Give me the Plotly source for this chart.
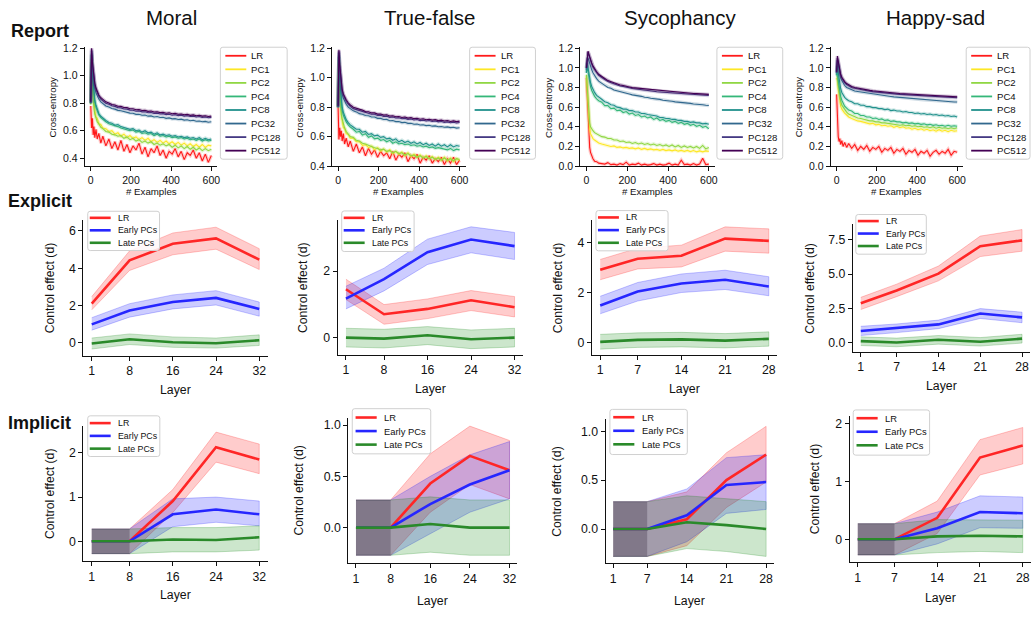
import plotly.graph_objects as go

W, H = 1036, 617
FONT = "Liberation Sans, Arial, Helvetica, sans-serif"
INK = "#111111"

# ---------------------------------------------------------------------------
# Report row: cross-entropy against number of training examples
# ---------------------------------------------------------------------------
EXAMPLES = [0, 4, 8, 12, 16, 20, 26, 32, 40, 50, 60,
            75, 90, 105, 120, 135, 150,
            165, 180, 195, 210, 225, 240,
            255, 270, 285, 300, 315, 330,
            345, 360, 375, 390, 405, 420,
            435, 450, 465, 480, 495, 510,
            525, 540, 555, 570, 585, 600]
REPORT_LABELS = ["LR", "PC1", "PC2", "PC4", "PC8", "PC32", "PC128", "PC512"]
REPORT_COLORS = ["#ff1a1a", "#fde725", "#90d743", "#35b779", "#21918c",
                 "#31688e", "#443983", "#440154"]

moral_lr = [0.78, 0.62, 0.69, 0.57, 0.63, 0.55, 0.61, 0.54, 0.58, 0.51, 0.56,
            0.49, 0.54, 0.47, 0.52, 0.46, 0.53,
            0.45, 0.50, 0.44, 0.49, 0.46, 0.51,
            0.43, 0.48, 0.41, 0.47, 0.44, 0.49,
            0.42, 0.46, 0.40, 0.45, 0.43, 0.47,
            0.41, 0.45, 0.39, 0.44, 0.42, 0.46,
            0.40, 0.44, 0.38, 0.43, 0.37, 0.42]
moral_pc1 = [0.80, 1.12, 0.95, 0.86, 0.77, 0.75, 0.70, 0.69, 0.65, 0.645, 0.62,
             0.615, 0.595, 0.60, 0.575, 0.585, 0.56,
             0.575, 0.55, 0.565, 0.545, 0.555, 0.535,
             0.55, 0.53, 0.545, 0.52, 0.535, 0.515,
             0.53, 0.51, 0.525, 0.505, 0.52, 0.50,
             0.515, 0.495, 0.51, 0.49, 0.505, 0.485,
             0.50, 0.48, 0.50, 0.478, 0.495, 0.49]
moral_pc2 = [0.79, 1.10, 0.92, 0.82, 0.76, 0.72, 0.69, 0.665, 0.65, 0.625, 0.615,
             0.595, 0.59, 0.575, 0.57, 0.56, 0.565,
             0.545, 0.555, 0.535, 0.545, 0.525, 0.535,
             0.515, 0.525, 0.51, 0.52, 0.50, 0.51,
             0.495, 0.505, 0.49, 0.50, 0.48, 0.495,
             0.475, 0.49, 0.47, 0.485, 0.465, 0.48,
             0.46, 0.475, 0.455, 0.47, 0.455, 0.465]
moral_pc4 = [0.80, 1.15, 1.00, 0.91, 0.85, 0.81, 0.77, 0.745, 0.715, 0.695, 0.68,
             0.665, 0.65, 0.645, 0.635, 0.63, 0.62,
             0.615, 0.61, 0.60, 0.605, 0.59, 0.595,
             0.58, 0.585, 0.575, 0.58, 0.565, 0.575,
             0.56, 0.565, 0.555, 0.56, 0.55, 0.555,
             0.545, 0.55, 0.54, 0.545, 0.535, 0.54,
             0.53, 0.54, 0.525, 0.535, 0.525, 0.53]
moral_pc8 = [0.80, 1.16, 1.02, 0.93, 0.87, 0.82, 0.785, 0.755, 0.725, 0.705, 0.69,
             0.675, 0.66, 0.655, 0.64, 0.645, 0.63,
             0.625, 0.62, 0.61, 0.615, 0.60, 0.605,
             0.59, 0.60, 0.585, 0.59, 0.575, 0.585,
             0.57, 0.575, 0.565, 0.57, 0.56, 0.565,
             0.555, 0.56, 0.55, 0.555, 0.545, 0.55,
             0.54, 0.55, 0.535, 0.545, 0.535, 0.54]
moral_pc32 = [0.80, 1.18, 1.07, 1.00, 0.95, 0.91, 0.875, 0.85, 0.83, 0.81, 0.795,
              0.78, 0.772, 0.761, 0.757, 0.748, 0.745,
              0.738, 0.735, 0.728, 0.727, 0.719, 0.72,
              0.713, 0.714, 0.706, 0.708, 0.70, 0.703,
              0.696, 0.698, 0.69, 0.693, 0.686, 0.688,
              0.682, 0.684, 0.677, 0.68, 0.673, 0.676,
              0.669, 0.671, 0.665, 0.668, 0.662, 0.665]
moral_pc128 = [0.80, 1.19, 1.09, 1.02, 0.97, 0.935, 0.90, 0.875, 0.85, 0.83, 0.815,
               0.80, 0.792, 0.781, 0.777, 0.768, 0.766,
               0.758, 0.757, 0.75, 0.749, 0.742, 0.744,
               0.737, 0.738, 0.731, 0.733, 0.726, 0.728,
               0.722, 0.724, 0.717, 0.72, 0.713, 0.716,
               0.71, 0.713, 0.706, 0.709, 0.703, 0.706,
               0.70, 0.703, 0.697, 0.70, 0.694, 0.697]
moral_pc512 = [0.81, 1.20, 1.10, 1.03, 0.98, 0.945, 0.91, 0.885, 0.86, 0.84, 0.825,
               0.81, 0.802, 0.79, 0.787, 0.778, 0.777,
               0.769, 0.768, 0.76, 0.76, 0.753, 0.754,
               0.747, 0.748, 0.741, 0.743, 0.736, 0.738,
               0.732, 0.734, 0.727, 0.73, 0.723, 0.726,
               0.72, 0.722, 0.716, 0.719, 0.712, 0.715,
               0.709, 0.712, 0.706, 0.709, 0.703, 0.706]

tf_lr = [0.80, 0.58, 0.66, 0.60, 0.64, 0.57, 0.62, 0.55, 0.59, 0.53, 0.57,
         0.50, 0.55, 0.49, 0.53, 0.47, 0.52,
         0.48, 0.51, 0.46, 0.50, 0.47, 0.49,
         0.45, 0.50, 0.44, 0.48, 0.46, 0.49,
         0.43, 0.47, 0.45, 0.48, 0.42, 0.46,
         0.44, 0.47, 0.42, 0.45, 0.43, 0.46,
         0.41, 0.45, 0.42, 0.46, 0.41, 0.44]
tf_pc1 = [0.80, 1.10, 0.90, 0.80, 0.74, 0.71, 0.66, 0.655, 0.62, 0.615, 0.59,
          0.59, 0.565, 0.565, 0.54, 0.545, 0.525,
          0.535, 0.51, 0.525, 0.50, 0.515, 0.495,
          0.51, 0.485, 0.50, 0.48, 0.495, 0.47,
          0.49, 0.465, 0.48, 0.46, 0.475, 0.455,
          0.47, 0.45, 0.465, 0.445, 0.46, 0.44,
          0.46, 0.435, 0.455, 0.43, 0.45, 0.44]
tf_pc2 = [0.80, 1.12, 0.92, 0.82, 0.75, 0.72, 0.68, 0.66, 0.635, 0.62, 0.60,
          0.595, 0.575, 0.57, 0.555, 0.55, 0.54,
          0.535, 0.525, 0.52, 0.51, 0.515, 0.50,
          0.505, 0.49, 0.50, 0.485, 0.49, 0.475,
          0.485, 0.47, 0.475, 0.46, 0.47, 0.455,
          0.465, 0.45, 0.46, 0.445, 0.455, 0.44,
          0.455, 0.44, 0.45, 0.435, 0.45, 0.445]
tf_pc4 = [0.80, 1.14, 0.97, 0.88, 0.82, 0.78, 0.745, 0.72, 0.70, 0.68, 0.665,
          0.65, 0.63, 0.635, 0.61, 0.62, 0.595,
          0.605, 0.585, 0.59, 0.575, 0.58, 0.565,
          0.575, 0.555, 0.565, 0.55, 0.555, 0.545,
          0.55, 0.54, 0.545, 0.535, 0.54, 0.53,
          0.535, 0.525, 0.53, 0.52, 0.525, 0.52,
          0.52, 0.51, 0.52, 0.505, 0.515, 0.51]
tf_pc8 = [0.80, 1.15, 0.99, 0.90, 0.84, 0.80, 0.765, 0.74, 0.715, 0.695, 0.68,
          0.665, 0.65, 0.65, 0.63, 0.635, 0.615,
          0.62, 0.605, 0.61, 0.595, 0.60, 0.585,
          0.59, 0.575, 0.585, 0.565, 0.575, 0.56,
          0.57, 0.555, 0.565, 0.55, 0.56, 0.545,
          0.555, 0.54, 0.55, 0.535, 0.55, 0.535,
          0.545, 0.53, 0.545, 0.53, 0.54, 0.535]
tf_pc32 = [0.80, 1.17, 1.06, 0.98, 0.93, 0.89, 0.86, 0.84, 0.82, 0.80, 0.79,
           0.775, 0.768, 0.756, 0.752, 0.743, 0.742,
           0.733, 0.733, 0.724, 0.724, 0.716, 0.717,
           0.708, 0.709, 0.702, 0.703, 0.695, 0.697,
           0.69, 0.691, 0.684, 0.686, 0.679, 0.681,
           0.675, 0.677, 0.671, 0.673, 0.667, 0.669,
           0.664, 0.666, 0.661, 0.664, 0.658, 0.66]
tf_pc128 = [0.80, 1.18, 1.08, 1.00, 0.95, 0.91, 0.88, 0.86, 0.84, 0.82, 0.805,
            0.79, 0.784, 0.773, 0.77, 0.761, 0.76,
            0.752, 0.752, 0.744, 0.745, 0.737, 0.739,
            0.731, 0.733, 0.726, 0.728, 0.721, 0.724,
            0.717, 0.72, 0.713, 0.716, 0.709, 0.712,
            0.706, 0.709, 0.703, 0.706, 0.70, 0.703,
            0.697, 0.70, 0.694, 0.698, 0.693, 0.696]
tf_pc512 = [0.81, 1.19, 1.09, 1.01, 0.96, 0.92, 0.89, 0.87, 0.85, 0.83, 0.815,
            0.80, 0.794, 0.783, 0.78, 0.77, 0.769,
            0.761, 0.761, 0.753, 0.754, 0.746, 0.748,
            0.74, 0.742, 0.735, 0.737, 0.73, 0.733,
            0.726, 0.729, 0.722, 0.725, 0.718, 0.721,
            0.715, 0.718, 0.712, 0.715, 0.709, 0.712,
            0.706, 0.709, 0.703, 0.707, 0.702, 0.705]

syc_lr = [0.90, 0.68, 0.44, 0.29, 0.19, 0.14, 0.10, 0.075, 0.05, 0.045, 0.03,
          0.025, 0.02, 0.035, 0.015, 0.02, 0.01,
          0.025, 0.015, 0.04, 0.01, 0.02, 0.015,
          0.03, 0.01, 0.02, 0.01, 0.015, 0.025,
          0.01, 0.02, 0.01, 0.015, 0.03, 0.01,
          0.02, 0.01, 0.06, 0.015, 0.02, 0.01,
          0.025, 0.01, 0.02, 0.08, 0.015, 0.02]
syc_pc1 = [0.92, 0.75, 0.58, 0.45, 0.38, 0.33, 0.30, 0.28, 0.265, 0.25, 0.235,
           0.225, 0.215, 0.21, 0.20, 0.205, 0.19,
           0.195, 0.185, 0.19, 0.18, 0.185, 0.175,
           0.185, 0.17, 0.18, 0.168, 0.175, 0.165,
           0.17, 0.16, 0.17, 0.158, 0.165, 0.155,
           0.165, 0.152, 0.16, 0.15, 0.16, 0.148,
           0.158, 0.145, 0.155, 0.145, 0.155, 0.15]
syc_pc2 = [0.93, 0.80, 0.62, 0.50, 0.44, 0.40, 0.375, 0.36, 0.34, 0.33, 0.315,
           0.30, 0.295, 0.28, 0.28, 0.265, 0.265,
           0.25, 0.255, 0.24, 0.245, 0.23, 0.24,
           0.225, 0.235, 0.22, 0.23, 0.215, 0.225,
           0.21, 0.22, 0.205, 0.215, 0.20, 0.215,
           0.195, 0.21, 0.19, 0.205, 0.19, 0.20,
           0.185, 0.20, 0.18, 0.21, 0.175, 0.19]
syc_pc4 = [0.95, 1.02, 0.96, 0.90, 0.85, 0.81, 0.77, 0.74, 0.71, 0.685, 0.665,
           0.65, 0.615, 0.615, 0.585, 0.59, 0.565,
           0.57, 0.545, 0.555, 0.53, 0.54, 0.515,
           0.525, 0.50, 0.51, 0.49, 0.50, 0.475,
           0.49, 0.465, 0.475, 0.455, 0.465, 0.445,
           0.455, 0.435, 0.445, 0.425, 0.435, 0.415,
           0.425, 0.405, 0.415, 0.395, 0.405, 0.38]
syc_pc8 = [0.95, 1.05, 1.00, 0.94, 0.89, 0.85, 0.81, 0.78, 0.75, 0.72, 0.70,
           0.68, 0.655, 0.645, 0.625, 0.62, 0.60,
           0.595, 0.58, 0.58, 0.565, 0.565, 0.55,
           0.55, 0.535, 0.535, 0.525, 0.52, 0.51,
           0.51, 0.495, 0.495, 0.485, 0.485, 0.475,
           0.475, 0.465, 0.465, 0.455, 0.455, 0.445,
           0.45, 0.44, 0.44, 0.43, 0.435, 0.425]
syc_pc32 = [0.98, 1.10, 1.10, 1.07, 1.04, 1.01, 0.98, 0.95, 0.92, 0.89, 0.865,
            0.84, 0.822, 0.80, 0.792, 0.775, 0.768,
            0.755, 0.748, 0.74, 0.733, 0.725, 0.722,
            0.713, 0.71, 0.70, 0.699, 0.69, 0.688,
            0.68, 0.679, 0.67, 0.669, 0.662, 0.66,
            0.654, 0.652, 0.646, 0.645, 0.64, 0.638,
            0.632, 0.631, 0.626, 0.625, 0.62, 0.617]
syc_pc128 = [1.00, 1.14, 1.16, 1.13, 1.10, 1.07, 1.04, 1.01, 0.98, 0.95, 0.925,
             0.90, 0.882, 0.86, 0.847, 0.835, 0.827,
             0.815, 0.81, 0.80, 0.797, 0.79, 0.787,
             0.78, 0.778, 0.772, 0.77, 0.764, 0.762,
             0.757, 0.755, 0.751, 0.749, 0.745, 0.744,
             0.74, 0.738, 0.735, 0.734, 0.731, 0.73,
             0.727, 0.726, 0.724, 0.723, 0.72, 0.718]
syc_pc512 = [1.00, 1.15, 1.17, 1.14, 1.11, 1.08, 1.05, 1.02, 0.99, 0.96, 0.935,
             0.91, 0.892, 0.87, 0.857, 0.845, 0.837,
             0.825, 0.82, 0.81, 0.806, 0.799, 0.796,
             0.79, 0.788, 0.782, 0.78, 0.774, 0.773,
             0.768, 0.766, 0.762, 0.76, 0.756, 0.755,
             0.751, 0.75, 0.747, 0.746, 0.743, 0.742,
             0.739, 0.738, 0.736, 0.735, 0.732, 0.73]

hs_lr = [0.73, 0.45, 0.30, 0.25, 0.28, 0.22, 0.26, 0.20, 0.24, 0.19, 0.23,
         0.18, 0.22, 0.16, 0.20, 0.17, 0.21,
         0.15, 0.19, 0.17, 0.20, 0.14, 0.18,
         0.16, 0.19, 0.13, 0.17, 0.15, 0.18,
         0.12, 0.16, 0.14, 0.17, 0.11, 0.15,
         0.13, 0.16, 0.10, 0.14, 0.16, 0.12,
         0.15, 0.13, 0.17, 0.11, 0.15, 0.14]
hs_pc1 = [0.90, 0.87, 0.78, 0.70, 0.65, 0.61, 0.58, 0.56, 0.54, 0.52, 0.50,
          0.485, 0.47, 0.46, 0.455, 0.445, 0.44,
          0.43, 0.435, 0.42, 0.425, 0.41, 0.415,
          0.405, 0.41, 0.395, 0.405, 0.39, 0.40,
          0.385, 0.39, 0.375, 0.385, 0.37, 0.38,
          0.365, 0.375, 0.36, 0.37, 0.355, 0.37,
          0.355, 0.365, 0.35, 0.365, 0.355, 0.36]
hs_pc2 = [0.91, 0.92, 0.83, 0.75, 0.70, 0.66, 0.62, 0.60, 0.57, 0.55, 0.53,
          0.515, 0.50, 0.49, 0.485, 0.475, 0.47,
          0.46, 0.46, 0.45, 0.45, 0.44, 0.44,
          0.435, 0.43, 0.425, 0.425, 0.415, 0.42,
          0.41, 0.415, 0.405, 0.41, 0.40, 0.405,
          0.395, 0.40, 0.39, 0.40, 0.385, 0.395,
          0.385, 0.39, 0.38, 0.39, 0.38, 0.39]
hs_pc4 = [0.92, 0.96, 0.88, 0.80, 0.75, 0.71, 0.67, 0.64, 0.61, 0.59, 0.57,
          0.56, 0.535, 0.535, 0.515, 0.515, 0.50,
          0.50, 0.485, 0.49, 0.475, 0.48, 0.465,
          0.47, 0.455, 0.46, 0.45, 0.45, 0.44,
          0.445, 0.435, 0.44, 0.43, 0.435, 0.425,
          0.43, 0.42, 0.425, 0.415, 0.42, 0.41,
          0.415, 0.405, 0.415, 0.405, 0.41, 0.405]
hs_pc8 = [0.93, 1.02, 0.95, 0.88, 0.83, 0.79, 0.75, 0.72, 0.70, 0.68, 0.665,
          0.655, 0.635, 0.635, 0.62, 0.62, 0.605,
          0.605, 0.595, 0.595, 0.585, 0.585, 0.575,
          0.58, 0.565, 0.57, 0.56, 0.56, 0.55,
          0.555, 0.545, 0.545, 0.535, 0.54, 0.53,
          0.535, 0.525, 0.53, 0.52, 0.525, 0.515,
          0.52, 0.51, 0.515, 0.505, 0.51, 0.50]
hs_pc32 = [0.95, 1.08, 1.03, 0.97, 0.93, 0.90, 0.87, 0.845, 0.82, 0.80, 0.79,
           0.775, 0.765, 0.76, 0.755, 0.748, 0.742,
           0.737, 0.733, 0.728, 0.724, 0.72, 0.716,
           0.712, 0.709, 0.705, 0.702, 0.698, 0.695,
           0.692, 0.689, 0.686, 0.683, 0.68, 0.678,
           0.675, 0.673, 0.67, 0.668, 0.665, 0.663,
           0.661, 0.659, 0.657, 0.655, 0.653, 0.652]
hs_pc128 = [0.95, 1.10, 1.06, 1.00, 0.96, 0.925, 0.895, 0.87, 0.85, 0.83, 0.815,
            0.80, 0.792, 0.785, 0.778, 0.772, 0.767,
            0.762, 0.758, 0.754, 0.75, 0.747, 0.744,
            0.741, 0.738, 0.735, 0.733, 0.73, 0.728,
            0.725, 0.723, 0.721, 0.719, 0.717, 0.715,
            0.713, 0.711, 0.709, 0.708, 0.706, 0.704,
            0.703, 0.701, 0.70, 0.698, 0.697, 0.695]
hs_pc512 = [0.96, 1.12, 1.07, 1.01, 0.97, 0.935, 0.905, 0.88, 0.86, 0.84, 0.825,
            0.81, 0.80, 0.793, 0.787, 0.781, 0.776,
            0.771, 0.767, 0.763, 0.759, 0.756, 0.753,
            0.75, 0.747, 0.744, 0.742, 0.739, 0.737,
            0.734, 0.732, 0.73, 0.728, 0.726, 0.724,
            0.722, 0.72, 0.719, 0.717, 0.715, 0.714,
            0.712, 0.711, 0.709, 0.708, 0.706, 0.705]

# ---------------------------------------------------------------------------
# Explicit / implicit rows: control effect per layer (mean with CI bounds)
# ---------------------------------------------------------------------------
LAYERS_32 = [1, 8, 16, 24, 32]
LAYERS_28 = [1, 7, 14, 21, 28]
CONTROL_LABELS = ["LR", "Early PCs", "Late PCs"]
CONTROL_COLORS = ["#ff2626", "#2626ff", "#2a8a2a"]
CONTROL_FILLS = ["rgba(255,0,0,0.2)", "rgba(0,0,255,0.2)", "rgba(0,128,0,0.2)"]
CONTROL_EDGES = ["rgba(255,0,0,0.22)", "rgba(0,0,255,0.22)", "rgba(0,128,0,0.22)"]
NULL_SHADE = "rgba(20,10,30,0.24)"

exp_moral_lr = [2.10, 4.42, 5.31, 5.60, 4.46]
exp_moral_lr_lo = [1.77, 3.88, 4.72, 5.02, 3.93]
exp_moral_lr_hi = [2.48, 4.93, 5.89, 6.20, 5.05]
exp_moral_early = [0.99, 1.73, 2.19, 2.41, 1.82]
exp_moral_early_lo = [0.68, 1.38, 1.82, 2.03, 1.43]
exp_moral_early_hi = [1.35, 2.10, 2.57, 2.80, 2.19]
exp_moral_late = [-0.03, 0.19, 0.03, -0.02, 0.14]
exp_moral_late_lo = [-0.33, -0.09, -0.24, -0.28, -0.14]
exp_moral_late_hi = [0.26, 0.48, 0.32, 0.26, 0.43]

exp_tf_lr = [1.46, 0.71, 0.87, 1.13, 0.92]
exp_tf_lr_lo = [1.15, 0.41, 0.58, 0.82, 0.63]
exp_tf_lr_hi = [1.76, 1.00, 1.17, 1.42, 1.24]
exp_tf_early = [1.18, 1.76, 2.57, 2.95, 2.75]
exp_tf_early_lo = [0.87, 1.41, 2.20, 2.55, 2.35]
exp_tf_early_hi = [1.55, 2.09, 2.96, 3.33, 3.16]
exp_tf_late = [0.01, -0.02, 0.08, -0.04, 0.01]
exp_tf_late_lo = [-0.27, -0.30, -0.20, -0.32, -0.27]
exp_tf_late_hi = [0.29, 0.26, 0.34, 0.24, 0.29]

exp_syc_lr = [2.92, 3.36, 3.48, 4.16, 4.07]
exp_syc_lr_lo = [2.52, 2.95, 3.03, 3.66, 3.58]
exp_syc_lr_hi = [3.33, 3.78, 3.90, 4.63, 4.55]
exp_syc_early = [1.49, 2.05, 2.37, 2.52, 2.25]
exp_syc_early_lo = [1.16, 1.67, 2.01, 2.13, 1.88]
exp_syc_early_hi = [1.86, 2.41, 2.75, 2.90, 2.64]
exp_syc_late = [0.04, 0.12, 0.14, 0.09, 0.16]
exp_syc_late_lo = [-0.25, -0.18, -0.16, -0.20, -0.13]
exp_syc_late_hi = [0.34, 0.40, 0.42, 0.37, 0.44]

exp_hs_lr = [2.88, 3.81, 5.04, 7.03, 7.46]
exp_hs_lr_lo = [2.42, 3.36, 4.51, 6.28, 6.67]
exp_hs_lr_hi = [3.31, 4.27, 5.59, 7.77, 8.25]
exp_hs_early = [0.86, 1.06, 1.34, 2.13, 1.85]
exp_hs_early_lo = [0.53, 0.74, 1.03, 1.77, 1.46]
exp_hs_early_hi = [1.20, 1.37, 1.65, 2.49, 2.23]
exp_hs_late = [0.12, 0.02, 0.22, 0.08, 0.30]
exp_hs_late_lo = [-0.20, -0.29, -0.10, -0.24, -0.02]
exp_hs_late_hi = [0.43, 0.34, 0.53, 0.38, 0.62]

imp_moral_lr = [0.0, 0.0, 0.91, 2.13, 1.85]
imp_moral_lr_lo = [-0.28, -0.28, 0.65, 1.79, 1.53]
imp_moral_lr_hi = [0.28, 0.28, 1.17, 2.47, 2.20]
imp_moral_early = [0.0, 0.0, 0.61, 0.72, 0.61]
imp_moral_early_lo = [-0.28, -0.28, 0.33, 0.43, 0.35]
imp_moral_early_hi = [0.28, 0.28, 0.96, 1.00, 0.91]
imp_moral_late = [0.0, 0.0, 0.04, 0.03, 0.09]
imp_moral_late_lo = [-0.28, -0.28, -0.24, -0.24, -0.20]
imp_moral_late_hi = [0.28, 0.28, 0.31, 0.31, 0.35]

imp_tf_lr = [0.0, 0.0, 0.43, 0.70, 0.56]
imp_tf_lr_lo = [-0.27, -0.27, 0.15, 0.42, 0.28]
imp_tf_lr_hi = [0.27, 0.27, 0.72, 0.99, 0.85]
imp_tf_early = [0.0, 0.0, 0.23, 0.42, 0.56]
imp_tf_early_lo = [-0.27, -0.27, -0.06, 0.15, 0.28]
imp_tf_early_hi = [0.27, 0.27, 0.50, 0.71, 0.84]
imp_tf_late = [0.0, 0.0, 0.035, 0.0, 0.0]
imp_tf_late_lo = [-0.27, -0.27, -0.24, -0.27, -0.27]
imp_tf_late_hi = [0.27, 0.27, 0.30, 0.27, 0.27]

imp_syc_lr = [0.0, 0.0, 0.10, 0.50, 0.76]
imp_syc_lr_lo = [-0.28, -0.28, -0.17, 0.22, 0.48]
imp_syc_lr_hi = [0.28, 0.28, 0.38, 0.78, 1.05]
imp_syc_early = [0.0, 0.0, 0.14, 0.45, 0.48]
imp_syc_early_lo = [-0.28, -0.28, -0.13, 0.16, 0.20]
imp_syc_early_hi = [0.28, 0.28, 0.41, 0.73, 0.76]
imp_syc_late = [0.0, 0.0, 0.07, 0.04, 0.0]
imp_syc_late_lo = [-0.28, -0.28, -0.20, -0.23, -0.28]
imp_syc_late_hi = [0.28, 0.28, 0.34, 0.31, 0.28]

imp_hs_lr = [0.0, 0.0, 0.37, 1.41, 1.62]
imp_hs_lr_lo = [-0.27, -0.27, 0.10, 1.11, 1.30]
imp_hs_lr_hi = [0.27, 0.27, 0.66, 1.72, 1.93]
imp_hs_early = [0.0, 0.0, 0.19, 0.47, 0.45]
imp_hs_early_lo = [-0.27, -0.27, -0.08, 0.20, 0.19]
imp_hs_early_hi = [0.27, 0.27, 0.47, 0.75, 0.73]
imp_hs_late = [0.0, 0.0, 0.05, 0.06, 0.05]
imp_hs_late_lo = [-0.27, -0.27, -0.23, -0.21, -0.23]
imp_hs_late_hi = [0.27, 0.27, 0.34, 0.34, 0.33]

COLUMN_TITLES = ["Moral", "True-false", "Sycophancy", "Happy-sad"]
ROW_TITLES = ["Report", "Explicit", "Implicit"]

# ---------------------------------------------------------------------------
# Helpers (pixel positions -> paper coordinates)
# ---------------------------------------------------------------------------
def px_x(v):
    return v / W


def px_y(v):
    return 1 - v / H


fig = go.Figure()
layout_axes = {}
shapes = []
annotations = []


def text(x, y, s, size, bold=False, angle=0, xanchor="center", yanchor="middle"):
    annotations.append(dict(
        xref="paper", yref="paper", x=px_x(x), y=px_y(y), text=f"<b>{s}</b>" if bold else s,
        showarrow=False, xanchor=xanchor, yanchor=yanchor, textangle=angle,
        borderpad=0, font=dict(size=size, color=INK, family=FONT)))


def add_axes(idx, box, xr, yr, xticks, yticks, xfmt="", yfmt="", tick_size=12.0):
    left, right, top, bottom = box
    sfx = "" if idx == 1 else str(idx)
    common = dict(showline=True, linecolor=INK, linewidth=1, ticks="outside", ticklen=4,
                  tickwidth=1, tickcolor=INK, showgrid=False, zeroline=False, fixedrange=True,
                  tickfont=dict(size=tick_size, color=INK, family=FONT))
    layout_axes["xaxis" + sfx] = dict(domain=[px_x(left), px_x(right)], range=xr,
                                      tickvals=xticks, tickformat=xfmt,
                                      anchor="y" + sfx, **common)
    layout_axes["yaxis" + sfx] = dict(domain=[px_y(bottom), px_y(top)], range=yr,
                                      tickvals=yticks, tickformat=yfmt,
                                      anchor="x" + sfx, **common)
    return "x" + sfx, "y" + sfx


def rounded_frame(x0, x1, y0, y1, r=2.5):
    # rounded rectangle path in paper coordinates
    rx, ry = r / W, r / H
    a, b = px_x(x0), px_x(x1)
    top, bot = px_y(y0), px_y(y1)
    return (f"M {a + rx},{top} L {b - rx},{top} Q {b},{top} {b},{top - ry} "
            f"L {b},{bot + ry} Q {b},{bot} {b - rx},{bot} L {a + rx},{bot} "
            f"Q {a},{bot} {a},{bot + ry} L {a},{top - ry} Q {a},{top} {a + rx},{top} Z")


def add_legend(box, first_y, step, labels, colors, size, line_w, offs):
    x0, x1, y0, y1 = box
    shapes.append(dict(type="path", xref="paper", yref="paper",
                       path=rounded_frame(x0, x1, y0, y1),
                       line=dict(color="#d0d0d0", width=1),
                       fillcolor="rgba(255,255,255,0.85)", layer="above"))
    for i, (lab, col) in enumerate(zip(labels, colors)):
        yc = first_y + i * step
        shapes.append(dict(type="line", xref="paper", yref="paper",
                           x0=px_x(x0 + offs[0]), x1=px_x(x0 + offs[1]),
                           y0=px_y(yc), y1=px_y(yc),
                           line=dict(color=col, width=line_w), layer="above"))
        text(x0 + offs[2], yc, lab, size, xanchor="left")


# ---------------------------------------------------------------------------
# Row 1: Report
# ---------------------------------------------------------------------------
report_panels = [
    dict(series=[moral_lr, moral_pc1, moral_pc2, moral_pc4, moral_pc8, moral_pc32, moral_pc128, moral_pc512],
         box=(85, 218, 43, 164), yr=[0.343, 1.207], yt=[0.4, 0.6, 0.8, 1.0, 1.2],
         legend=(221, 288, 43, 157)),
    dict(series=[tf_lr, tf_pc1, tf_pc2, tf_pc4, tf_pc8, tf_pc32, tf_pc128, tf_pc512],
         box=(333, 467, 43, 164), yr=[0.4, 1.207], yt=[0.4, 0.6, 0.8, 1.0, 1.2],
         legend=(471, 537, 43, 157)),
    dict(series=[syc_lr, syc_pc1, syc_pc2, syc_pc4, syc_pc8, syc_pc32, syc_pc128, syc_pc512],
         box=(582, 717, 43, 164), yr=[0.0, 1.21], yt=[0.0, 0.2, 0.4, 0.6, 0.8, 1.0, 1.2],
         legend=(719, 785, 43, 157)),
    dict(series=[hs_lr, hs_pc1, hs_pc2, hs_pc4, hs_pc8, hs_pc32, hs_pc128, hs_pc512],
         box=(833, 966, 43, 164), yr=[0.0, 1.21], yt=[0.0, 0.2, 0.4, 0.6, 0.8, 1.0, 1.2],
         legend=(969, 1033, 43, 157)),
]

axis_idx = 1
for p in report_panels:
    xa, ya = add_axes(axis_idx, p["box"], [-30, 630], p["yr"], [0, 200, 400, 600], p["yt"],
                      yfmt=".1f", tick_size=10.5)
    axis_idx += 1
    for vals, col in zip(p["series"], REPORT_COLORS):
        xs = EXAMPLES[:len(vals)]
        fig.add_trace(go.Scatter(x=xs, y=vals, mode="lines", xaxis=xa, yaxis=ya,
                                 line=dict(color=col, width=3.5), opacity=0.22,
                                 showlegend=False, hoverinfo="skip"))
        fig.add_trace(go.Scatter(x=xs, y=vals, mode="lines", xaxis=xa, yaxis=ya,
                                 line=dict(color=col, width=1.1),
                                 showlegend=False, hoverinfo="skip"))
    left, right, top, bottom = p["box"]
    text(left - 32, (top + bottom) / 2 + 1, "Cross-entropy", 9.6, angle=-90)
    text((left + right) / 2, bottom + 26, "# Examples", 9.7)
    add_legend(p["legend"], 51.7, 13.8, REPORT_LABELS, REPORT_COLORS,
               9.6, 1.8, (5, 26, 30))

# ---------------------------------------------------------------------------
# Rows 2 and 3: Explicit / Implicit control effect
# ---------------------------------------------------------------------------
control_panels = [
    # explicit
    dict(layers=LAYERS_32, box=(83.6, 268.4, 219, 357), xr=[-0.55, 33.55], yr=[-0.684, 6.58],
         yt=[0, 2, 4, 6], yfmt="", ylab_off=34, xlab_off=35, null=False,
         data=[(exp_moral_lr, exp_moral_lr_lo, exp_moral_lr_hi),
               (exp_moral_early, exp_moral_early_lo, exp_moral_early_hi),
               (exp_moral_late, exp_moral_late_lo, exp_moral_late_hi)],
         legend=(88, 160, 210, 250), leg_y=216.7, leg_step=12.7, leg_size=8.8, leg_offs=(2, 23, 29)),
    dict(layers=LAYERS_32, box=(338.5, 524.5, 219, 356), xr=[-0.55, 33.55], yr=[-0.5, 3.53],
         yt=[0, 2], yfmt="", ylab_off=34, xlab_off=35, null=False,
         data=[(exp_tf_lr, exp_tf_lr_lo, exp_tf_lr_hi),
               (exp_tf_early, exp_tf_early_lo, exp_tf_early_hi),
               (exp_tf_late, exp_tf_late_lo, exp_tf_late_hi)],
         legend=(342.7, 415.3, 209.7, 251), leg_y=216.7, leg_step=12.7, leg_size=8.8, leg_offs=(2, 23, 29)),
    dict(layers=LAYERS_28, box=(593.5, 779.5, 219, 356), xr=[-0.35, 29.35], yr=[-0.47, 4.9],
         yt=[0, 2, 4], yfmt="", ylab_off=34, xlab_off=35, null=False,
         data=[(exp_syc_lr, exp_syc_lr_lo, exp_syc_lr_hi),
               (exp_syc_early, exp_syc_early_lo, exp_syc_early_hi),
               (exp_syc_late, exp_syc_late_lo, exp_syc_late_hi)],
         legend=(597.7, 670, 209.3, 250.3), leg_y=216.3, leg_step=12.9, leg_size=8.8, leg_offs=(2, 23, 29)),
    dict(layers=LAYERS_28, box=(855.2, 1033.1, 223, 353), xr=[-0.35, 29.35], yr=[-0.65, 8.65],
         yt=[0, 2.5, 5, 7.5], yfmt=".1f", ylab_off=43, xlab_off=35, null=False,
         data=[(exp_hs_lr, exp_hs_lr_lo, exp_hs_lr_hi),
               (exp_hs_early, exp_hs_early_lo, exp_hs_early_hi),
               (exp_hs_late, exp_hs_late_lo, exp_hs_late_hi)],
         legend=(858.3, 929, 213.3, 253.7), leg_y=220, leg_step=12.7, leg_size=8.8, leg_offs=(2, 23, 29)),
    # implicit
    dict(layers=LAYERS_32, box=(83.6, 268.4, 429, 566), xr=[-0.55, 33.55], yr=[-0.444, 2.6],
         yt=[0, 1, 2], yfmt="", ylab_off=34, xlab_off=35, null=True,
         data=[(imp_moral_lr, imp_moral_lr_lo, imp_moral_lr_hi),
               (imp_moral_early, imp_moral_early_lo, imp_moral_early_hi),
               (imp_moral_late, imp_moral_late_lo, imp_moral_late_hi)],
         legend=(88, 160.3, 418.3, 459.7), leg_y=425.7, leg_step=13, leg_size=8.8, leg_offs=(2, 23, 29)),
    dict(layers=LAYERS_32, box=(349.3, 518.7, 420, 568), xr=[-0.55, 33.55], yr=[-0.344, 1.074],
         yt=[0, 0.5, 1.0], yfmt=".1f", ylab_off=49, xlab_off=39, null=True,
         data=[(imp_tf_lr, imp_tf_lr_lo, imp_tf_lr_hi),
               (imp_tf_early, imp_tf_early_lo, imp_tf_early_hi),
               (imp_tf_late, imp_tf_late_lo, imp_tf_late_hi)],
         legend=(353.3, 432, 411, 457), leg_y=420, leg_step=13.8, leg_size=9.4, leg_offs=(3.3, 24.5, 31.3)),
    dict(layers=LAYERS_28, box=(607.3, 776, 422, 568), xr=[-0.35, 29.35], yr=[-0.346, 1.12],
         yt=[0, 0.5, 1.0], yfmt=".1f", ylab_off=49, xlab_off=39, null=True,
         data=[(imp_syc_lr, imp_syc_lr_lo, imp_syc_lr_hi),
               (imp_syc_early, imp_syc_early_lo, imp_syc_early_hi),
               (imp_syc_late, imp_syc_late_lo, imp_syc_late_hi)],
         legend=(611.7, 689.3, 411.7, 457.7), leg_y=419.7, leg_step=13.8, leg_size=9.4, leg_offs=(3.3, 24.5, 31.3)),
    dict(layers=LAYERS_28, box=(852, 1034, 418, 567), xr=[-0.35, 29.35], yr=[-0.39, 2.136],
         yt=[0, 1, 2], yfmt="", ylab_off=35, xlab_off=37, null=True,
         data=[(imp_hs_lr, imp_hs_lr_lo, imp_hs_lr_hi),
               (imp_hs_early, imp_hs_early_lo, imp_hs_early_hi),
               (imp_hs_late, imp_hs_late_lo, imp_hs_late_hi)],
         legend=(855.7, 932.3, 412.3, 458.3), leg_y=420.7, leg_step=13.8, leg_size=9.4, leg_offs=(3.3, 24.5, 31.3)),
]

for p in control_panels:
    layers = p["layers"]
    xa, ya = add_axes(axis_idx, p["box"], p["xr"], p["yr"], layers, p["yt"],
                      yfmt=p["yfmt"], tick_size=12.3)
    axis_idx += 1
    # confidence bands first, then the mean lines on top
    for (mean, lo, hi), fill, edge in zip(p["data"], CONTROL_FILLS, CONTROL_EDGES):
        fig.add_trace(go.Scatter(x=layers + layers[::-1], y=hi + lo[::-1], mode="lines",
                                 fill="toself", fillcolor=fill, line=dict(color=edge, width=1),
                                 xaxis=xa, yaxis=ya, showlegend=False, hoverinfo="skip"))
    if p["null"]:
        # shaded null region over the first two layers, where every method sits at zero
        _, lo0, hi0 = p["data"][2]
        xs = [layers[0], layers[1], layers[1], layers[0]]
        ys = [hi0[0], hi0[1], lo0[1], lo0[0]]
        fig.add_trace(go.Scatter(x=xs, y=ys, mode="lines", fill="toself",
                                 fillcolor=NULL_SHADE, line=dict(width=0),
                                 xaxis=xa, yaxis=ya, showlegend=False, hoverinfo="skip"))
    for (mean, lo, hi), col in zip(p["data"], CONTROL_COLORS):
        fig.add_trace(go.Scatter(x=layers, y=mean, mode="lines", line=dict(color=col, width=2.6),
                                 xaxis=xa, yaxis=ya, showlegend=False, hoverinfo="skip"))
    left, right, top, bottom = p["box"]
    text(left - p["ylab_off"], (top + bottom) / 2, "Control effect (d)", 12.2, angle=-90)
    text((left + right) / 2, bottom + p["xlab_off"], "Layer", 12.3)
    add_legend(p["legend"], p["leg_y"], p["leg_step"], CONTROL_LABELS, CONTROL_COLORS,
               p["leg_size"], 2.6, p["leg_offs"])

# ---------------------------------------------------------------------------
# Titles
# ---------------------------------------------------------------------------
for title, cx in zip(COLUMN_TITLES, [172, 431, 682, 938]):
    text(cx, 13, title, 20.5)
for title, cy in zip(ROW_TITLES, [26, 200, 426]):
    text(7 if title != "Report" else 10, cy, title, 18, bold=True, xanchor="left")

fig.update_layout(
    width=W, height=H, margin=dict(l=0, r=0, t=0, b=0),
    paper_bgcolor="white", plot_bgcolor="white", showlegend=False,
    font=dict(family=FONT, color=INK),
    shapes=shapes, annotations=annotations, **layout_axes)

fig.write_html("out.html")
